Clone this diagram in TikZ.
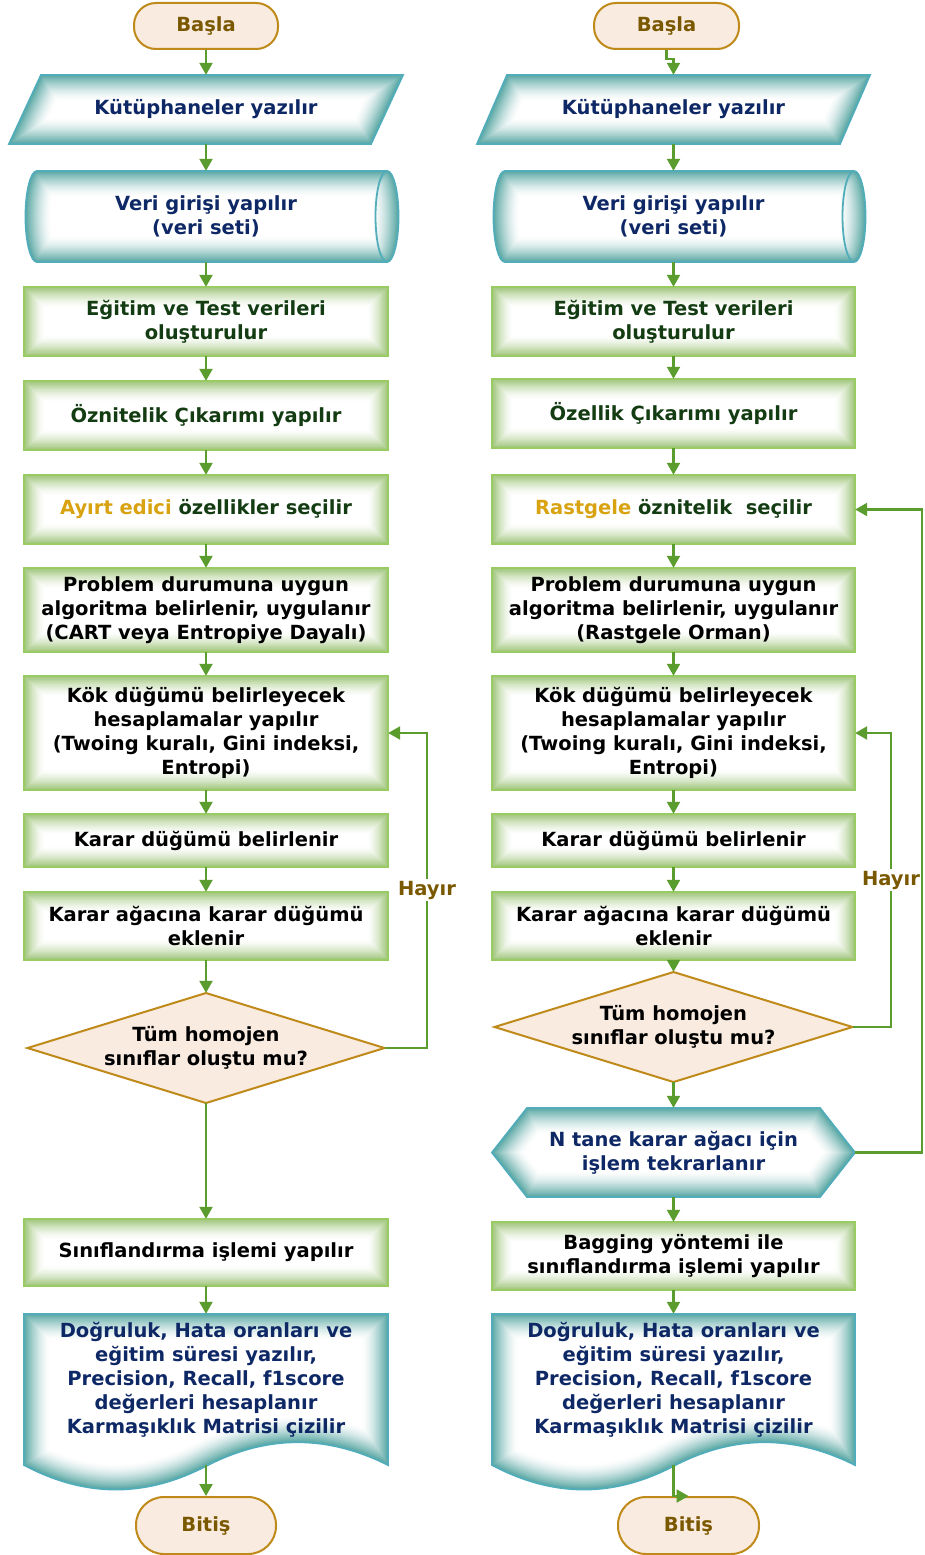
\documentclass[tikz,border=0pt]{standalone}
\usepackage{fontspec}
\setmainfont{DejaVu Sans}
\usetikzlibrary{arrows.meta}

\definecolor{termfill}{HTML}{F9EBDF}
\definecolor{termline}{HTML}{BF8A1A}
\definecolor{termtext}{HTML}{7A5800}
\definecolor{tealglow}{HTML}{3A9793}
\definecolor{tealline}{HTML}{52ADBB}
\definecolor{navy}{HTML}{0E2866}
\definecolor{greenglow}{HTML}{7FB24E}
\definecolor{greenline}{HTML}{98CC62}
\definecolor{darkgreen}{HTML}{143C12}
\definecolor{gold}{HTML}{D9A210}
\definecolor{arrowgreen}{HTML}{5A9C2E}

\tikzset{
  lbl/.style={font=\bfseries\fontsize{19.5}{24}\selectfont, align=center, inner sep=0pt},
  boxlbl/.style={lbl, rectangle, text=black},
  tealbl/.style={lbl, rectangle, text=navy},
  arr/.style={draw=arrowgreen, line width=2.2pt, -{Triangle[length=12pt,width=13pt]}},
  term/.style={lbl, rectangle, rounded corners=22pt, fill=termfill, draw=termline,
               line width=2pt, text=termtext},
  decision/.style={fill=termfill, draw=termline, line width=2pt},
  hayir/.style={lbl, text=termtext, fill=white, inner sep=2pt},
}

% shape filled white with a smooth coloured glow along its inner edge:
% glow colour, border colour, glow depth, glow strength (percent), path
\newcommand\glowfill[5]{%
  \begin{scope}
    \clip #5;
    \fill[white] #5;
    \foreach \i in {0,...,29}{%
      \pgfmathsetmacro\gw{2*#3*(1-\i/30)}%
      \pgfmathsetmacro\gp{#4*(\i/30)^1.5}%
      \draw[line width=\gw pt, draw=#1!\gp!white] #5;
    }
  \end{scope}
  \draw[line width=1.8pt, draw=#2] #5;
}
\newcommand\tealfill[1]{\glowfill{tealglow}{tealline}{26}{88}{#1}}

% green process box: name, x1, y1, x2, y2, text
\newcommand\gbox[6]{%
  \glowfill{greenglow}{greenline}{21}{80}{(#2,#3) rectangle (#4,#5)}
  \node[boxlbl, minimum width={(#4-#2)*1pt}, minimum height={(#5-#3)*1pt}]
    (#1) at ({(#2+#4)/2},{(#3+#5)/2}) {#6};
}

\begin{document}
\begin{tikzpicture}[x=1pt, y=-1pt]
\fill[white] (0,0) rectangle (924,1555);
\useasboundingbox (0,0) rectangle (924,1555);

% ---------------- left flow: decision tree ----------------
\node[term, minimum width=144pt, minimum height=46pt] (L0) at (206,26) {Başla};

\tealfill{(41,75) -- (403,75) -- (371,144) -- (9,144) -- cycle}
\node[tealbl, minimum width=300pt, minimum height=69pt] (L1) at (206,109.5) {Kütüphaneler yazılır};

\tealfill{(37,171) -- (387,171) arc[start angle=-90,end angle=90,x radius=11.5,y radius=45.5] -- (37,262) arc[start angle=90,end angle=270,x radius=11.5,y radius=45.5] -- cycle}
\draw[line width=1.8pt, tealline] (387,171) arc[start angle=-90,end angle=-270,x radius=11.5,y radius=45.5];
\node[tealbl, minimum width=340pt, minimum height=91pt] (L2) at (206,216.5) {Veri girişi yapılır\\(veri seti)};

\gbox{L3}{24}{287}{388}{356}{\color{darkgreen}Eğitim ve Test verileri\\\color{darkgreen}oluşturulur}
\gbox{L4}{24}{381}{388}{450}{\color{darkgreen}Öznitelik Çıkarımı yapılır}
\gbox{L5}{24}{475}{388}{544}{{\color{gold}Ayırt edici} {\color{darkgreen}özellikler seçilir}}
\gbox{L6}{24}{568}{388}{652}{Problem durumuna uygun\\algoritma belirlenir, uygulanır\\(CART veya Entropiye Dayalı)}
\gbox{L7}{24}{676}{388}{790}{Kök düğümü belirleyecek\\hesaplamalar yapılır\\(Twoing kuralı, Gini indeksi,\\Entropi)}
\gbox{L8}{24}{814}{388}{867}{Karar düğümü belirlenir}
\gbox{L9}{24}{892}{388}{960}{Karar ağacına karar düğümü\\eklenir}

\draw[decision] (206,993) -- (384.5,1048) -- (206,1103) -- (27.5,1048) -- cycle;
\node[boxlbl, minimum width=357pt, minimum height=110pt] (L10) at (206,1048) {Tüm homojen\\sınıflar oluştu mu?};

\gbox{L11}{24}{1219}{388}{1286}{Sınıflandırma işlemi yapılır}

\tealfill{(24,1314) -- (388,1314) -- (388,1465) .. controls (322,1432) and (262,1437) .. (206,1466) .. controls (150,1495) and (90,1500) .. (24,1465) -- cycle}
\node[rectangle, inner sep=0pt, minimum width=364pt, minimum height=151pt] (L12) at (206,1389.5) {};
\node[tealbl] (L12t) at (206,1380) {Doğruluk, Hata oranları ve\\eğitim süresi yazılır,\\Precision, Recall, f1score\\değerleri hesaplanır\\Karmaşıklık Matrisi çizilir};

\node[term, minimum width=140pt, minimum height=57pt, rounded corners=28pt] (L13) at (206,1525.5) {Bitiş};

% ---------------- right flow: random forest ----------------
\node[term, minimum width=145pt, minimum height=46pt] (R0) at (666.5,26) {Başla};

\tealfill{(507,75) -- (870,75) -- (840,144) -- (477,144) -- cycle}
\node[tealbl, minimum width=300pt, minimum height=69pt] (R1) at (673.5,109.5) {Kütüphaneler yazılır};

\tealfill{(505,171) -- (854,171) arc[start angle=-90,end angle=90,x radius=11.5,y radius=45.5] -- (505,262) arc[start angle=90,end angle=270,x radius=11.5,y radius=45.5] -- cycle}
\draw[line width=1.8pt, tealline] (854,171) arc[start angle=-90,end angle=-270,x radius=11.5,y radius=45.5];
\node[tealbl, minimum width=340pt, minimum height=91pt] (R2) at (673.5,216.5) {Veri girişi yapılır\\(veri seti)};

\gbox{R3}{492}{287}{855}{356}{\color{darkgreen}Eğitim ve Test verileri\\\color{darkgreen}oluşturulur}
\gbox{R4}{492}{379}{855}{448}{\color{darkgreen}Özellik Çıkarımı yapılır}
\gbox{R5}{492}{475}{855}{544}{{\color{gold}Rastgele} {\color{darkgreen}öznitelik\ \ seçilir}}
\gbox{R6}{492}{568}{855}{652}{Problem durumuna uygun\\algoritma belirlenir, uygulanır\\(Rastgele Orman)}
\gbox{R7}{492}{676}{855}{790}{Kök düğümü belirleyecek\\hesaplamalar yapılır\\(Twoing kuralı, Gini indeksi,\\Entropi)}
\gbox{R8}{492}{814}{855}{867}{Karar düğümü belirlenir}
\gbox{R9}{492}{892}{855}{960}{Karar ağacına karar düğümü\\eklenir}

\draw[decision] (673.5,972) -- (852.5,1027) -- (673.5,1082) -- (494.5,1027) -- cycle;
\node[boxlbl, minimum width=358pt, minimum height=110pt] (R10) at (673.5,1027) {Tüm homojen\\sınıflar oluştu mu?};

\tealfill{(492,1152.5) -- (527,1108) -- (820,1108) -- (855,1152.5) -- (820,1197) -- (527,1197) -- cycle}
\node[tealbl, minimum width=363pt, minimum height=89pt] (R11) at (673.5,1152.5) {N tane karar ağacı için\\işlem tekrarlanır};

\gbox{R12}{492}{1222}{855}{1290}{Bagging yöntemi ile\\sınıflandırma işlemi yapılır}

\tealfill{(492,1314) -- (855,1314) -- (855,1465) .. controls (789,1432) and (729,1437) .. (673.5,1466) .. controls (618,1495) and (558,1500) .. (492,1465) -- cycle}
\node[rectangle, inner sep=0pt, minimum width=363pt, minimum height=151pt] (R13) at (673.5,1389.5) {};
\node[tealbl] (R13t) at (673.5,1380) {Doğruluk, Hata oranları ve\\eğitim süresi yazılır,\\Precision, Recall, f1score\\değerleri hesaplanır\\Karmaşıklık Matrisi çizilir};

\node[term, minimum width=141pt, minimum height=57pt, rounded corners=28pt] (R14) at (688.5,1525.5) {Bitiş};

% ---------------- connectors ----------------
\foreach \a/\b in {L0/L1, L1/L2, L2/L3, L3/L4, L4/L5, L5/L6, L6/L7, L7/L8, L8/L9, L9/L10, L10/L11, L11/L12, L12/L13,
                   R1/R2, R2/R3, R3/R4, R4/R5, R5/R6, R6/R7, R7/R8, R8/R9, R9/R10, R10/R11, R11/R12, R12/R13}
  \draw[arr] (\a) -- (\b);
\draw[arr] (R0.south) -- ++(0,9) -| (R1.north);
\draw[arr] (R13.south) |- (R14.north);

% loops back for unfinished trees
\draw[arr] (L10.east) -- ++(42.5,0) |- (L7.east);
\node[hayir] (H1) at (427,890) {Hayır};
\draw[arr] (R10.east) -- ++(38.5,0) |- (R7.east);
\node[hayir] (H2) at (891,880) {Hayır};
\draw[arr] (R11.east) -- ++(67,0) |- (R5.east);
\end{tikzpicture}
\end{document}
